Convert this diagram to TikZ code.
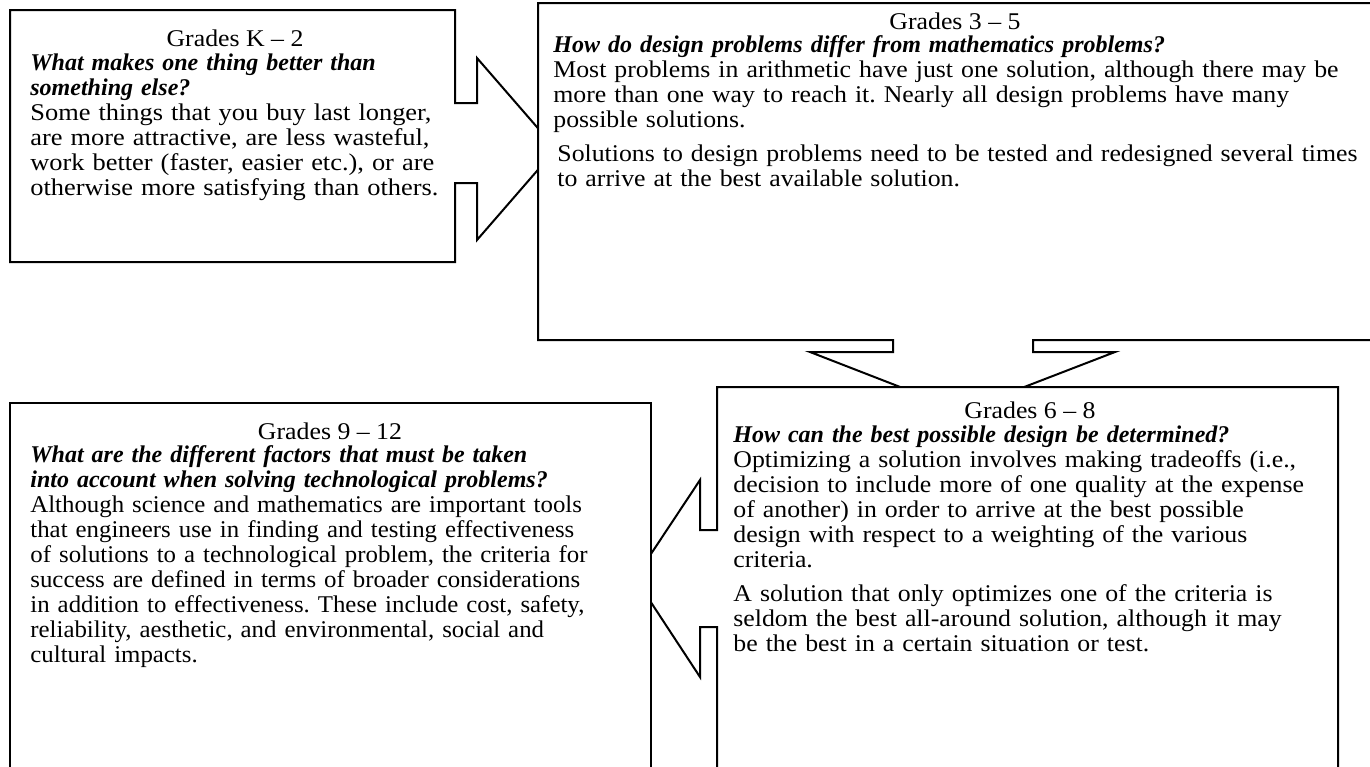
\documentclass[tikz,border=0pt]{standalone}
\usepackage{fontspec}
\setmainfont{Liberation Serif}
\newfontfamily\bodyfont{Liberation Serif}[Ligatures=TeX,FakeStretch=1.075]
\newfontfamily\bodywide{Liberation Serif}[Ligatures=TeX,FakeStretch=1.1]
\newfontfamily\bodynarrow{Liberation Serif}[Ligatures=TeX,FakeStretch=1.035]
\usetikzlibrary{positioning}

\newcommand{\ques}[1]{{\rmfamily\bfseries\itshape #1}}
\frenchspacing

\begin{document}
\begin{tikzpicture}[x=0.5pt,y=-0.5pt,
	callout/.style={draw,fill=white,line width=1pt,line join=miter},
	grade/.style={anchor=base,inner sep=0pt,font=\fontsize{12}{12.5}\bodyfont},
	txt/.style={anchor=base west,inner sep=0pt,align=left,text width=#1,font=\fontsize{12}{12.5}\bodyfont}]
	\useasboundingbox (0,0) rectangle (1370,766);
	% boxes with their arrows, back to front
	\draw[callout] (10,10) -- (455,10) -- (455,103) -- (477,103) -- (477,58) -- (556,149)
		-- (477,240) -- (477,183) -- (455,183) -- (455,262) -- (10,262) -- cycle;
	\draw[callout] (538,3) -- (1372,3) -- (1372,340) -- (1033,340) -- (1033,352) -- (1115,352)
		-- (962,411) -- (810,352) -- (893,352) -- (893,340) -- (538,340) -- cycle;
	\draw[callout] (717,387) -- (1338,387) -- (1338,772) -- (717,772) -- (717,627) -- (700,627)
		-- (700,677) -- (635,578) -- (700,480) -- (700,530) -- (717,530) -- cycle;
	\draw[callout] (10,403) rectangle (651,772);
	% Grades K-2
	\node[grade] (g_k2) at (235,46) {Grades K -- 2};
	\node[txt=440,font=\fontsize{12}{12.5}\bodywide] (t_k2) at (30,70) {\ques{What makes one thing better than}\\
		\ques{something else?}\\
		Some things that you buy last longer,\\
		are more attractive, are less wasteful,\\
		work better (faster, easier etc.), or are\\
		otherwise more satisfying than others.};
	% Grades 3-5
	\node[grade] (g_35) at (955,29) {Grades 3 -- 5};
	\node[txt=830] (t_35) at (553,52) {\ques{How do design problems differ from mathematics problems?}\\
		Most problems in arithmetic have just one solution, although there may be\\
		more than one way to reach it. Nearly all design problems have many\\
		possible solutions.\\[4.5pt]
		\hspace*{2pt}Solutions to design problems need to be tested and redesigned several times\\
		\hspace*{2pt}to arrive at the best available solution.};
	% Grades 9-12
	\node[grade] (g_912) at (330,439) {Grades 9 -- 12};
	\node[txt=630,font=\fontsize{12}{12.5}\bodynarrow] (t_912) at (30,462) {\ques{What are the different factors that must be taken}\\
		\ques{into account when solving technological problems?}\\
		Although science and mathematics are important tools\\
		that engineers use in finding and testing effectiveness\\
		of solutions to a technological problem, the criteria for\\
		success are defined in terms of broader considerations\\
		in addition to effectiveness. These include cost, safety,\\
		reliability, aesthetic, and environmental, social and\\
		cultural impacts.};
	% Grades 6-8
	\node[grade] (g_68) at (1030,418) {Grades 6 -- 8};
	\node[txt=620] (t_68) at (733,442) {\ques{How can the best possible design be determined?}\\
		Optimizing a solution involves making tradeoffs (i.e.,\\
		decision to include more of one quality at the expense\\
		of another) in order to arrive at the best possible\\
		design with respect to a weighting of the various\\
		criteria.\\[4.5pt]
		A solution that only optimizes one of the criteria is\\
		seldom the best all-around solution, although it may\\
		be the best in a certain situation or test.};
\end{tikzpicture}
\end{document}
